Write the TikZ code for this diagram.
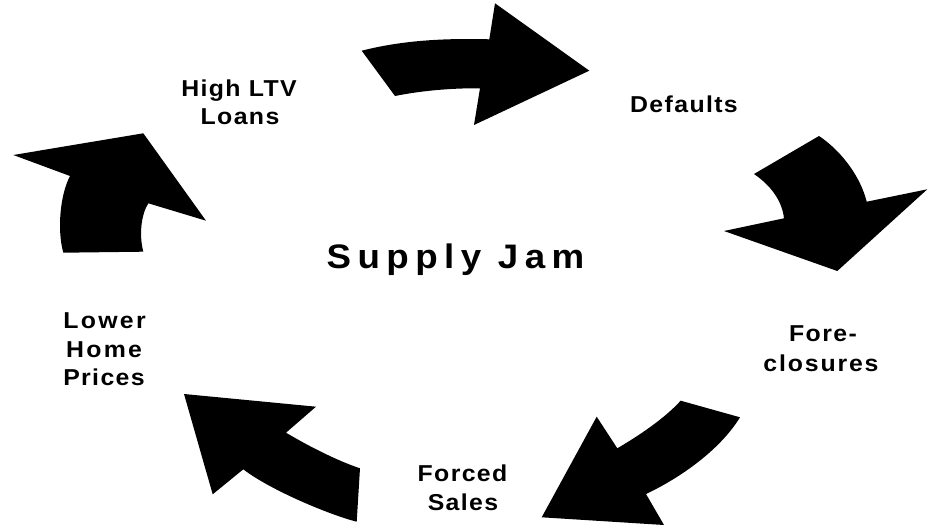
\documentclass[tikz,border=0pt]{standalone}
\usepackage{fontspec}
\setmainfont{Liberation Sans}[LetterSpace=6,FakeStretch=1.08]
\begin{document}
\begin{tikzpicture}[x=1pt,y=-1pt,
  lbl/.style={anchor=base,inner sep=0pt,font=\fontsize{23}{27}\selectfont\bfseries},
  wide/.style={lbl,font=\fontsize{23}{27}\selectfont\bfseries\addfontfeature{LetterSpace=10}},
  big/.style={anchor=base,inner sep=0pt,font=\fontsize{34}{40}\selectfont\bfseries\addfontfeature{LetterSpace=19}},
  blk/.style={fill=black}]
\useasboundingbox[fill=white] (0,0) rectangle (935,529);
% arrow 1 (top)
\fill[blk] (361.7,50.7) .. controls (400,41) and (440,38) .. (489.3,39.3)
  -- (495,3.3) -- (589.3,70.7) -- (474,125) -- (480,88.3)
  .. controls (450,88) and (420,91) .. (395,96) -- cycle;
% arrow 2 (right)
\fill[blk] (754,174) -- (819,136) .. controls (840,150) and (860,175) .. (866.7,201.7)
  -- (927.3,189.3) -- (837.3,271) -- (724,231) -- (784,218.3)
  .. controls (782,200) and (770,185) .. (754,174) -- cycle;
% arrow 3 (bottom right)
\fill[blk] (680.7,400.7) -- (740,417.3) .. controls (720,450) and (680,478) .. (646,494)
  -- (664,525) -- (541.7,517.3) -- (596.7,416.7) -- (617.3,448.3)
  .. controls (640,435) and (665,418) .. (680.7,400.7) -- cycle;
% arrow 4 (bottom left)
\fill[blk] (184,394) -- (316,406.7) -- (286,432.7)
  .. controls (305,444) and (335,460) .. (360,468.3) -- (356.7,521.7)
  .. controls (330,515) and (270,490) .. (243.3,469.3) -- (212.7,494.3) -- cycle;
% arrow 5 (left)
\fill[blk] (63.3,252.7) .. controls (57,230) and (60,195) .. (70,176)
  -- (13.3,155) -- (143.3,133.3) -- (206,220.7) -- (148.3,203.3)
  .. controls (141,215) and (139,235) .. (143.3,251.7) -- cycle;
% labels
\node[lbl] (hl1) at (239,96.7) {High LTV};
\node[lbl] (hl2) at (240,125) {Loans};
\node[lbl] (def) at (684,112.3) {Defaults};
\node[big] (sj) at (455.5,268.3) {Supply Jam};
\node[wide] (lh1) at (104.5,328.3) {Lower};
\node[wide] (lh2) at (104,357.3) {Home};
\node[lbl] (lh3) at (104,386) {Prices};
\node[lbl] (fc1) at (823,341.7) {Fore-};
\node[lbl,font=\fontsize{23}{27}\selectfont\bfseries\addfontfeature{LetterSpace=8}] (fc2) at (821,371.7) {closures};
\node[lbl] (fs1) at (462.5,481) {Forced};
\node[lbl] (fs2) at (463,510) {Sales};
\end{tikzpicture}
\end{document}
